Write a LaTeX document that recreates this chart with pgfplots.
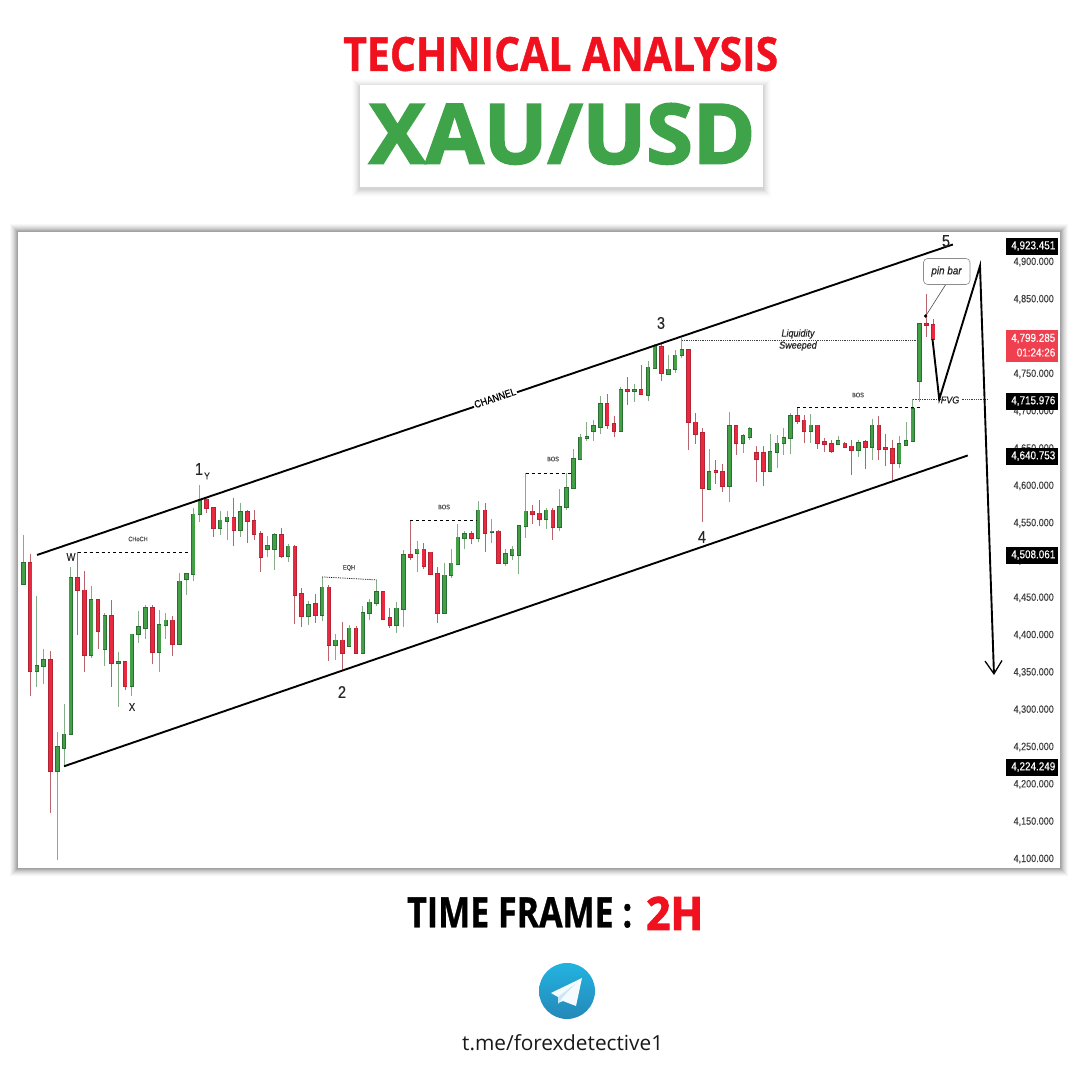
\documentclass[border=0pt]{standalone}
\usepackage{pgfplots}
\usepackage{pgfplotstable}
\usepackage{graphicx}
\usepackage{fontspec}
\pgfplotsset{compat=1.18}
\usetikzlibrary{arrows.meta}
\setmainfont{Open Sans}
\newfontface\heavy{Open Sans Bold}[FakeBold=2.4]
\newfontface\bld{Open Sans Bold}[FakeBold=0.9]
\newfontfamily\axf{Liberation Sans}[FakeStretch=0.86,FakeBold=0.25]
\newfontface\axi{Liberation Sans Italic}[FakeStretch=0.9,FakeBold=0.6]
\newfontface\axr{Liberation Sans}[FakeStretch=0.86,FakeBold=0.3]
\definecolor{gfill}{HTML}{43A047}
\definecolor{gedge}{HTML}{2B6E33}
\definecolor{gwick}{HTML}{84AD88}
\definecolor{rfill}{HTML}{E8293F}
\definecolor{redge}{HTML}{B42334}
\definecolor{rwick}{HTML}{B9636C}
\definecolor{titlered}{HTML}{F0101E}
\definecolor{titlegreen}{HTML}{3FA34A}
\definecolor{tagred}{HTML}{F0404F}
\definecolor{tele}{HTML}{2BA0D8}
\pgfplotstableread{
i l b t h
0 4469 4469 4497 4534
2 4330 4352 4359 4452
3 4334 4359 4367 4381
5 4099 4218 4250 4270
6 4224 4249 4267 4308
7 4267 4267 4477 4491
10 4370 4374 4447 4466
12 4359 4381 4426 4430
14 4304 4363 4364 4378
16 4318 4332 4401 4402
17 4390 4401 4411 4432
18 4395 4410 4437 4440
20 4350 4377 4414 4434
21 4395 4414 4420 4429
23 4388 4388 4472 4483
24 4454 4475 4482 4483
25 4472 4482 4562 4571
26 4551 4562 4582 4601
29 4534 4544 4554 4566
30 4527 4553 4558 4566
32 4531 4541 4565 4577
36 4505 4515 4520 4533
37 4487 4515 4534 4537
39 4498 4506 4519 4522
42 4413 4426 4441 4446
44 4419 4427 4464 4478
46 4367 4387 4393 4401
48 4386 4386 4409 4414
50 4376 4376 4430 4439
51 4420 4430 4444 4449
52 4439 4443 4458 4474
55 4403 4413 4436 4444
56 4411 4435 4508 4514
58 4485 4510 4515 4526
62 4430 4430 4480 4497
63 4477 4480 4496 4516
64 4495 4495 4531 4549
65 4515 4530 4536 4540
67 4525 4530 4567 4580
69 4524 4538 4539 4555
71 4492 4497 4509 4516
72 4501 4508 4515 4519
73 4482 4508 4546 4546
74 4530 4546 4566 4617
77 4542 4555 4567 4571
79 4539 4545 4572 4596
80 4567 4572 4597 4617
81 4597 4597 4636 4650
82 4636 4636 4665 4670
83 4660 4664 4666 4685
84 4660 4673 4680 4688
85 4670 4679 4710 4720
88 4674 4674 4729 4732
90 4712 4727 4729 4737
92 4714 4722 4759 4767
93 4758 4758 4787 4790
95 4750 4750 4756 4776
96 4751 4756 4775 4782
97 4772 4775 4782 4798
101 4596 4596 4619 4650
104 4579 4600 4680 4699
106 4644 4657 4667 4670
107 4661 4666 4676 4679
110 4620 4620 4646 4670
111 4624 4646 4657 4668
112 4641 4657 4664 4677
113 4643 4664 4694 4697
116 4658 4674 4681 4696
120 4656 4656 4660 4667
123 4639 4648 4658 4661
125 4635 4652 4681 4690
129 4624 4631 4656 4667
130 4655 4655 4660 4686
131 4660 4660 4703 4717
132 4712 4740 4817 4817
}\upcandles
\pgfplotstableread{
i l b t h
1 4318 4352 4497 4509
4 4162 4218 4367 4379
8 4400 4460 4477 4511
9 4350 4374 4460 4486
11 4381 4405 4447 4449
13 4330 4363 4426 4447
15 4326 4332 4364 4365
19 4361 4377 4437 4440
22 4372 4388 4420 4426
27 4564 4571 4582 4585
28 4531 4544 4571 4572
31 4520 4541 4557 4584
33 4524 4553 4565 4568
34 4528 4536 4553 4567
35 4485 4505 4536 4540
38 4504 4506 4534 4543
40 4415 4454 4519 4521
41 4411 4426 4455 4463
43 4416 4427 4442 4455
45 4366 4387 4464 4467
47 4353 4376 4393 4418
49 4376 4376 4409 4412
53 4422 4422 4458 4459
54 4409 4413 4423 4437
57 4501 4505 4508 4554
59 4489 4492 4515 4524
60 4480 4482 4511 4512
61 4416 4430 4482 4491
66 4522 4530 4536 4540
68 4512 4537 4567 4577
70 4497 4497 4539 4541
75 4549 4562 4566 4574
76 4546 4556 4563 4581
78 4528 4545 4567 4570
86 4676 4682 4710 4723
87 4666 4674 4683 4693
89 4709 4727 4729 4746
91 4723 4723 4729 4762
94 4741 4751 4786 4791
98 4648 4685 4782 4784
99 4656 4670 4685 4698
100 4552 4597 4671 4678
102 4602 4619 4620 4634
103 4592 4600 4619 4629
105 4642 4657 4680 4681
108 4605 4636 4644 4653
109 4600 4620 4644 4653
114 4683 4687 4694 4705
115 4658 4674 4688 4695
117 4650 4658 4681 4682
118 4645 4656 4659 4664
119 4644 4647 4656 4661
121 4652 4652 4657 4659
122 4615 4648 4653 4661
124 4622 4652 4659 4661
126 4635 4650 4681 4693
127 4627 4650 4651 4670
128 4606 4631 4650 4661
133 4800 4816 4817 4857
134 4795 4797 4816 4823
}\downcandles
\tikzset{lbl/.style={inner sep=0pt,text=black!85}}
\pgfplotsset{
 wick/.style={no markers,draw=none,forget plot,error bars/.cd,y dir=both,y explicit,error mark=none,error bar style={draw=#1,line width=0.95bp,solid}},
 body/.style 2 args={no markers,draw=none,forget plot,error bars/.cd,y dir=both,y explicit,error mark=none,error bar style={draw=#1,line width=#2,solid}},
 guide/.style={forget plot,no markers,line width=0.8bp,black},
 heavyline/.style={forget plot,no markers,line width=1.9bp,black}
}
\newcommand{\plotcandles}[4]{%
 \addplot[wick=#3] table[x=i,y=b,y error plus expr=\thisrow{h}-\thisrow{b},y error minus expr=\thisrow{b}-\thisrow{l}] {#1};
 \addplot[body={#4}{4.5bp}] table[x=i,y=b,y error plus expr=\thisrow{t}-\thisrow{b}+0.9,y error minus expr=0.9] {#1};
 \addplot[body={#2}{2.9bp}] table[x=i,y=b,y error plus expr=\thisrow{t}-\thisrow{b},y error minus expr=0] {#1};
}
\begin{document}
\begin{tikzpicture}
\fill[white] (0bp,0bp) rectangle (1080bp,-1080bp);
\begin{scope}[x=1bp,y=-1bp]
 % soft shadows
 \foreach \e/\c in {8/3,7/6,6/10,5/14,4/19,3/25,2/31,1/37}{
  \fill[black!\c] (18-\e,232-\e) rectangle (1060+\e,868+\e);}
 \foreach \e/\c in {8/1,7/2,6/4,5/6,4/8,3/11,2/14,1/17}{
  \fill[black!\c] (360-\e,85-\e+2) rectangle (763+\e,187+\e+2);}
 \fill[white] (360,85) rectangle (763,187);
 % headings
 \node[anchor=south west,inner sep=0pt,text=titlered] at (343,71.5) {\resizebox{435bp}{34bp}{\bld TECHNICAL ANALYSIS}};
 \node[anchor=south west,inner sep=0pt,text=titlegreen] at (369,164.5) {\resizebox{386bp}{60bp}{\heavy XAU/USD}};
 \node[anchor=south west,inner sep=0pt,text=black] at (407,928) {\resizebox{225bp}{30bp}{\bld TIME FRAME :}};
 \node[anchor=south west,inner sep=0pt,text=titlered] at (646,930) {\resizebox{57bp}{33bp}{\heavy 2H}};
 \node[anchor=south west,inner sep=0pt,text=black!90] at (462,1051) {\resizebox{201bp}{!}{t.me/forexdetective1}};
 % telegram
 \begin{scope}
  \clip (539,962) rectangle (595,1022);
  \shade[top color=tele!80!cyan,bottom color=tele!85!black] (567,991) circle (28);
 \end{scope}
 \fill[white!95!tele] (551,993) -- (582,978) -- (576,1006) -- (563,1001) -- (558,1003) -- (558,997) -- cycle;
 \fill[tele!25] (558,997) -- (575,984) -- (562,998) -- (558,1004) -- cycle;
\end{scope}
\begin{axis}[
 at={(18bp,-868bp)},anchor=south west,scale only axis,
 width=1042bp,height=636bp,
 xmin=-0.7806,xmax=152.68,ymin=4087.94,ymax=4940.18,
 axis line style={draw=none},
 axis background/.style={fill=white},
 clip=false,
 xtick=\empty,
 ytick={4100,4150,...,4900},
 major tick length=0pt,
 yticklabel pos=right,
 y tick label style={anchor=east,xshift=-6bp,inner sep=0pt,font=\axf\fontsize{10.5bp}{11bp}\selectfont,text=black!75,
   /pgf/number format/.cd,fixed,fixed zerofill,precision=3,1000 sep={,},assume math mode=true},
 scaled y ticks=false,
]
\plotcandles{\upcandles}{gfill}{gwick}{gedge}
\plotcandles{\downcandles}{rfill}{rwick}{redge}
% channel
\addplot[heavyline] coordinates {(2.02,4507.4) (136.9,4923.451)};
\addplot[heavyline] coordinates {(6.0,4224.249) (139.1,4640.753)};
% structure lines
\addplot[guide,dashed] coordinates {(8,4511) (24.65,4511)};
\addplot[guide,densely dotted] coordinates {(44,4478) (52,4474)};
\addplot[guide,dashed] coordinates {(57,4554) (66.8,4554)};
\addplot[guide,dashed] coordinates {(74,4617) (80.8,4617)};
\addplot[guide,dashed] coordinates {(114,4705) (132,4705)};
\addplot[guide,densely dotted,black!75] coordinates {(97,4795.5) (131.6,4795.5)};
\addplot[guide,densely dotted,black!75] coordinates {(131,4715.976) (135.9,4715.976)};
\addplot[guide,densely dotted,black!75] coordinates {(138.2,4715.976) (142.1,4715.976)};
% projection
\addplot[forget plot,no markers,line width=1.9bp,black,line join=miter,-{Straight Barb[length=13bp,width=17bp,line width=1.3bp]}] coordinates {(133.9,4796.8) (134.9,4716) (140.9,4894.6) (142.96,4346.6)};
% pin bar leader
\addplot[forget plot,line width=0.6bp,black!70,no markers] coordinates {(135.9,4870.5) (132.9,4827.6)};
\addplot[forget plot,only marks,mark=*,mark size=1.5bp,black] coordinates {(132.9,4827.6)};
\end{axis}
\begin{scope}[x=1bp,y=-1bp]
 % annotations
 \node[fill=white,inner sep=1pt,text=black,rotate=18.7,font=\axr\fontsize{10.5bp}{11bp}\selectfont] at (495,398) {CHANNEL};
 \foreach \t/\x/\y/\s in {1/199/469/17,2/342/692/17,3/661/323/17,4/702/537/17,5/946/241/17,W/71/557/11,Y/207/476/9.5,X/132/707/11}{
  \node[lbl,font=\axr\fontsize{\s bp}{\s bp}\selectfont] at (\x,\y) {\t};}
 \foreach \t/\x/\y in {CHoCH/138/539,EQH/349/568,BOS/444/507,BOS/553/459,BOS/858/395}{
  \node[lbl,font=\axr\fontsize{6.5bp}{7bp}\selectfont,text=black!70] at (\x,\y) {\t};}
 \node[lbl,font=\axi\fontsize{10bp}{10bp}\selectfont] at (798,334) {Liquidity};
 \node[lbl,font=\axi\fontsize{10bp}{10bp}\selectfont] at (798,346) {Sweeped};
 \node[lbl,font=\axi\fontsize{10bp}{10bp}\selectfont] at (950,400) {FVG};
 \draw[black!45,line width=0.6bp,fill=white,rounded corners=4bp] (923.5,258.5) rectangle (970,284.5);
 \node[lbl,font=\axi\fontsize{11bp}{11bp}\selectfont] at (946.5,271.5) {pin bar};
 % price tags
 \foreach \t/\y in {4{,}923.451/246,4{,}715.976/401,4{,}640.753/456,4{,}508.061/555,4{,}224.249/767}{
  \fill[black] (1006,\y-8.5) rectangle (1058,\y+8.5);
  \node[inner sep=0pt,text=white,anchor=east,font=\axf\fontsize{11.5bp}{12bp}\selectfont] at (1055.5,\y) {\t};}
 \fill[tagred] (1006,330) rectangle (1058,361.5);
 \node[inner sep=0pt,text=white,anchor=east,font=\axf\fontsize{11.5bp}{12bp}\selectfont] at (1055.5,338.5) {4,799.285};
 \node[inner sep=0pt,text=white,anchor=east,font=\axf\fontsize{11.5bp}{12bp}\selectfont] at (1055.5,352.5) {01:24:26};
\end{scope}
\end{tikzpicture}
\end{document}
